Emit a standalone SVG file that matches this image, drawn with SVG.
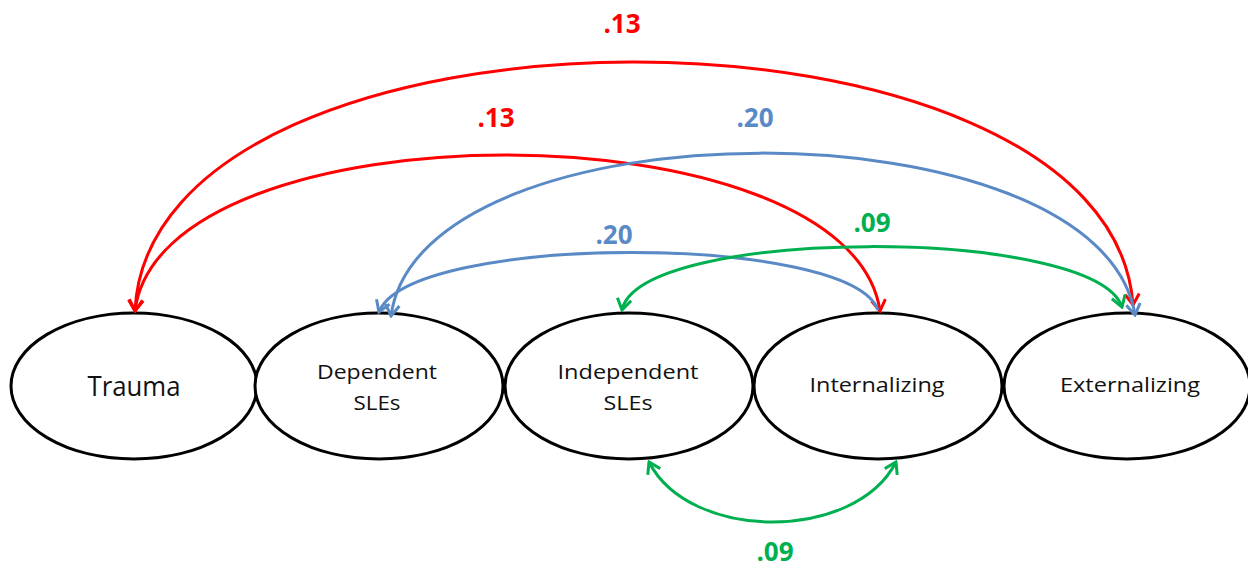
<svg xmlns="http://www.w3.org/2000/svg" width="1248" height="567" viewBox="0 0 1248 567">
<style>
.node ellipse{fill:#fff;stroke:#000;stroke-width:3}
.node text{font-family:"Open Sans","Liberation Sans",sans-serif;fill:#111;text-anchor:middle}
.lbl{font-family:"Open Sans","Liberation Sans",sans-serif;font-weight:bold;font-size:26px;text-anchor:middle}
.c{fill:none;stroke-width:3}
.red{stroke:#FF0000}.blue{stroke:#5A8AC6}.green{stroke:#00B050}
</style>
<defs>
<marker id="ar" viewBox="-14 -9 16 18" refX="0" refY="0" markerWidth="16" markerHeight="18" markerUnits="userSpaceOnUse" orient="auto-start-reverse"><path d="M-11,-7 L0,0 L-11,7" fill="none" stroke="#FF0000" stroke-width="3"/></marker>
<marker id="ab" viewBox="-14 -9 16 18" refX="0" refY="0" markerWidth="16" markerHeight="18" markerUnits="userSpaceOnUse" orient="auto-start-reverse"><path d="M-11,-7 L0,0 L-11,7" fill="none" stroke="#5A8AC6" stroke-width="3"/></marker>
<marker id="ag" viewBox="-14 -9 16 18" refX="0" refY="0" markerWidth="16" markerHeight="18" markerUnits="userSpaceOnUse" orient="auto-start-reverse"><path d="M-11,-7 L0,0 L-11,7" fill="none" stroke="#00B050" stroke-width="3"/></marker>
</defs>
<rect width="1248" height="567" fill="#fff"/>
<g id="trauma" class="node"><ellipse cx="134" cy="386" rx="123" ry="73"/><text x="134" y="396" font-size="27" textLength="93" lengthAdjust="spacingAndGlyphs">Trauma</text></g>
<g id="dependent" class="node"><ellipse cx="379" cy="386" rx="124" ry="73"/><text x="377" y="379" font-size="20.5" textLength="120" lengthAdjust="spacingAndGlyphs">Dependent</text><text x="377" y="410" font-size="20.5" textLength="47" lengthAdjust="spacingAndGlyphs">SLEs</text></g>
<g id="independent" class="node"><ellipse cx="629" cy="386" rx="124" ry="73"/><text x="628" y="379" font-size="20.5" textLength="141" lengthAdjust="spacingAndGlyphs">Independent</text><text x="628" y="410" font-size="20.5" textLength="49" lengthAdjust="spacingAndGlyphs">SLEs</text></g>
<g id="internalizing" class="node"><ellipse cx="878" cy="386" rx="124" ry="73"/><text x="877" y="392" font-size="20.5" textLength="135" lengthAdjust="spacingAndGlyphs">Internalizing</text></g>
<g id="externalizing" class="node"><ellipse cx="1127" cy="386" rx="123" ry="73"/><text x="1130" y="392" font-size="20.5" textLength="140" lengthAdjust="spacingAndGlyphs">Externalizing</text></g>
<g id="connectors">
<path class="c red" d="M135,311 C150,-20 1110,-20 1133,305" marker-start="url(#ar)" marker-end="url(#ar)"/>
<path class="c red" d="M135,311 C160,103 850,103 880,311" marker-start="url(#ar)" marker-end="url(#ar)"/>
<path class="c blue" d="M391,316 C420,99 1100,99 1135,315" marker-start="url(#ab)" marker-end="url(#ab)"/>
<path class="c blue" d="M379,312 C410,233 850,233 878,310" marker-start="url(#ab)"/>
<path class="c green" d="M622,310 C640,226 1095,226 1122,307" marker-start="url(#ag)" marker-end="url(#ag)"/>
<path class="c green" d="M649,462 C690,542 855,542 896,462" marker-start="url(#ag)" marker-end="url(#ag)"/>
</g>
<text class="lbl" x="622" y="33" fill="#FF0000">.13</text>
<text class="lbl" x="496" y="127" fill="#FF0000">.13</text>
<text class="lbl" x="755" y="127" fill="#5A8AC6">.20</text>
<text class="lbl" x="614" y="244" fill="#5A8AC6">.20</text>
<text class="lbl" x="872" y="232" fill="#00B050">.09</text>
<text class="lbl" x="775" y="561" fill="#00B050">.09</text>
</svg>
